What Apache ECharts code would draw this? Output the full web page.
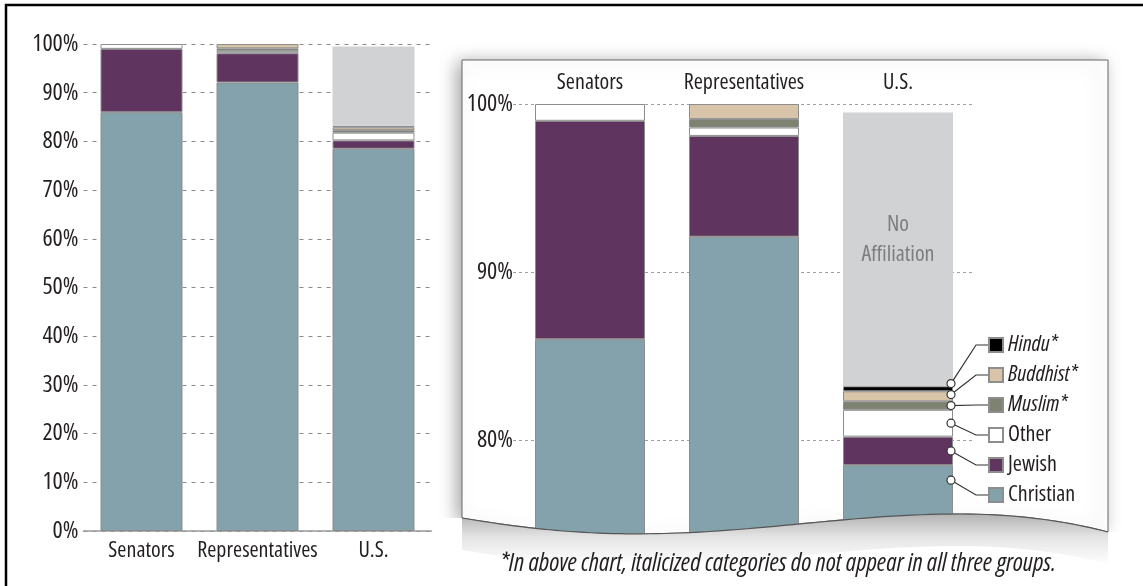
<!DOCTYPE html>
<html>
<head>
<meta charset="utf-8">
<script src="https://cdn.jsdelivr.net/npm/echarts@6/dist/echarts.min.js"></script>
<style>
  html, body { margin: 0; padding: 0; background: #fff; }
  #chart { width: 1143px; height: 586px; }
</style>
</head>
<body>
<div id="chart"></div>
<script>
// data, bottom to top of each stack (percent)
const categories = ["Senators", "Representatives", "U.S."];
const christian = [86, 92.1, 78.5];
const jewish = [13, 6.0, 1.7];
const other = [1, 0.5, 1.6];
const muslim = [0, 0.5, 0.5];
const buddhist = [0, 0.9, 0.6];
const hindu = [0, 0, 0.3];
const noAffiliation = [0, 0, 16.3];
const fullTicks = [0, 10, 20, 30, 40, 50, 60, 70, 80, 90, 100];
const zoomTicks = [80, 90, 100];
const legendOrder = ["Hindu", "Buddhist", "Muslim", "Other", "Jewish", "Christian"];
const italicNames = ["Hindu", "Buddhist", "Muslim"];

// Open Sans is a variable font, "condensed" goes through fontStyle into the canvas font string
const FONT = "'Open Sans'";
const COND = "condensed";
const INK = "#231f20";
const FS = 22;

const groups = [
  { name: "Christian", values: christian, color: "#84a2ab" },
  { name: "Jewish", values: jewish, color: "#5f355f" },
  { name: "Other", values: other, color: "#ffffff" },
  { name: "Muslim", values: muslim, color: "#7e8270" },
  { name: "Buddhist", values: buddhist, color: "#d8c4a8" },
  { name: "Hindu", values: hindu, color: "#000000" },
  { name: "No Affiliation", values: noAffiliation, color: "#d1d2d4" },
];

function buildSeries(idx, barWidth) {
  return groups.map((g) => ({
    name: g.name,
    type: "bar",
    stack: "s" + idx,
    xAxisIndex: idx,
    yAxisIndex: idx,
    barWidth: barWidth,
    data: g.values.map((v) => (v === 0 ? "-" : v)),
    itemStyle: {
      color: g.color,
      borderColor: g.name === "No Affiliation" ? "#d1d2d4" : "#8d8d8d",
      borderWidth: g.name === "No Affiliation" ? 0 : 1,
    },
    label:
      idx === 1 && g.name === "No Affiliation"
        ? {
            show: true,
            position: "inside",
            formatter: "No\nAffiliation",
            color: "#7d7d7d",
            fontSize: FS,
            fontStyle: COND,
            lineHeight: 30,
            fontFamily: FONT,
            offset: [0, -10],
          }
        : { show: false },
    emphasis: { disabled: true },
  }));
}

const axisText = { fontSize: FS, fontStyle: COND, fontFamily: FONT, color: INK };

const chart = echarts.init(document.getElementById("chart"));

const option = {
  animation: false,
  textStyle: { fontFamily: FONT, color: INK },
  grid: [
    { left: 83.5, width: 348, top: 44, height: 487, outerBoundsMode: "none" },
    { left: 513, width: 462, top: 104, height: 504, outerBoundsMode: "none" },
  ],
  legend: {
    data: legendOrder,
    orient: "vertical",
    left: 988,
    top: 334,
    padding: 0,
    itemWidth: 14,
    itemHeight: 14,
    itemGap: 8,
    icon: "rect",
    selectedMode: false,
    formatter: (name) =>
      italicNames.includes(name) ? "{i|" + name + "*}" : "{n|" + name + "}",
    textStyle: {
      fontFamily: FONT,
      fontSize: FS,
      fontStyle: COND,
      lineHeight: 22,
      color: INK,
      rich: {
        i: { fontFamily: FONT, fontSize: FS, lineHeight: 22, fontStyle: "italic " + COND, color: INK },
        n: { fontFamily: FONT, fontSize: FS, lineHeight: 22, fontStyle: COND, color: INK },
      },
    },
  },
  xAxis: [
    {
      type: "category",
      gridIndex: 0,
      data: categories,
      axisTick: { show: false },
      axisLine: { show: true, lineStyle: { color: "#9a9a9a", width: 1.5 } },
      axisLabel: { ...axisText, margin: 9, interval: 0 },
    },
    {
      type: "category",
      gridIndex: 1,
      position: "top",
      data: categories,
      axisTick: { show: false },
      axisLine: { show: false },
      axisLabel: { ...axisText, margin: 10, interval: 0 },
    },
  ],
  yAxis: [
    {
      type: "value",
      gridIndex: 0,
      min: 0,
      max: 100,
      interval: 10,
      axisLine: { show: false },
      axisTick: { show: false },
      axisLabel: {
        ...axisText,
        fontSize: 24,
        margin: 5,
        formatter: (v) => (fullTicks.includes(v) ? v + "%" : ""),
      },
      splitLine: { lineStyle: { color: "#8a8a8a", type: [4, 5], width: 1 } },
    },
    {
      type: "value",
      gridIndex: 1,
      min: 70,
      max: 100,
      interval: 10,
      axisLine: { show: false },
      axisTick: { show: false },
      axisLabel: {
        ...axisText,
        fontSize: 24,
        margin: 0,
        formatter: (v) => (zoomTicks.includes(v) ? v + "%" : ""),
      },
      splitLine: { lineStyle: { color: "#a0a0a0", type: [3, 3], width: 1 } },
    },
  ],
  series: [...buildSeries(0, 82), ...buildSeries(1, 110)],
};

chart.setOption(option);

// wavy bottom edge of the zoom panel, sampled from cubic curves
function cubic(p0, p1, p2, p3, n) {
  const pts = [];
  for (let i = 0; i <= n; i++) {
    const t = i / n, u = 1 - t;
    pts.push([
      u * u * u * p0[0] + 3 * u * u * t * p1[0] + 3 * u * t * t * p2[0] + t * t * t * p3[0],
      u * u * u * p0[1] + 3 * u * u * t * p1[1] + 3 * u * t * t * p2[1] + t * t * t * p3[1],
    ]);
  }
  return pts;
}
const wave = [
  ...cubic([462, 518], [540, 531], [600, 536], [680, 533], 30),
  ...cubic([680, 533], [780, 529], [860, 514], [960, 514], 30).slice(1),
  ...cubic([960, 514], [1020, 514], [1070, 522], [1108, 532], 20).slice(1),
];
const waveRev = wave.slice().reverse();
const waveLow = waveRev.map((p) => [p[0], p[1] + 32]);

const graphics = [
  {
    type: "rect",
    z: 200,
    silent: true,
    shape: { x: 6, y: 5, width: 1300, height: 700 },
    style: { fill: "none", stroke: "#000", lineWidth: 2.5 },
  },
  {
    type: "polygon",
    z: -10,
    silent: true,
    shape: { points: [[462, 60], [1108, 60], ...waveRev] },
    style: {
      fill: "#fff",
      stroke: "#666",
      lineWidth: 1,
      shadowBlur: 18,
      shadowOffsetX: -5,
      shadowOffsetY: 2,
      shadowColor: "rgba(0,0,0,0.35)",
    },
  },
  {
    // mask the bars under the wave
    type: "polygon",
    z: 50,
    silent: true,
    shape: { points: [...wave, [1125, 532], [1125, 586], [440, 586], [440, 518]] },
    style: { fill: "#fff" },
  },
  {
    type: "polygon",
    z: 51,
    silent: true,
    shape: { points: [...wave, ...waveLow] },
    style: {
      fill: {
        type: "linear",
        x: 0, y: 0, x2: 0, y2: 1,
        colorStops: [
          { offset: 0, color: "rgba(0,0,0,0.30)" },
          { offset: 0.45, color: "rgba(0,0,0,0.10)" },
          { offset: 1, color: "rgba(0,0,0,0)" },
        ],
      },
    },
  },
  {
    type: "polyline",
    z: 52,
    silent: true,
    shape: { points: wave },
    style: { fill: "none", stroke: "#555", lineWidth: 1.2 },
  },
  {
    type: "text",
    z: 53,
    silent: true,
    x: 778,
    y: 564,
    style: {
      text: "*In above chart, italicized categories do not appear in all three groups.",
      font: "italic semi-condensed 25px " + FONT,
      fill: INK,
      align: "center",
      verticalAlign: "middle",
    },
  },
];

// callouts from the U.S. bar to the legend
const usIdx = 2;
const legendTop = 334, rowH = 22, rowGap = 8;
const toPx = (v) => chart.convertToPixel({ xAxisIndex: 1, yAxisIndex: 1 }, [usIdx, v]);
const barRight = toPx(90)[0] + 55 - 2;
const calloutNames = ["Christian", "Jewish", "Other", "Muslim", "Buddhist", "Hindu"];
let base = 0;
const ys = [];
calloutNames.forEach((name, i) => {
  const v = groups.find((g) => g.name === name).values[usIdx];
  const yTop = toPx(base + v)[1];
  const yMid = toPx(base + v / 2)[1];
  let y = i === 0 ? yTop + 15 : yMid;
  if (i > 0) y = Math.min(y, ys[i - 1] - 11);
  ys.push(y);
  base += v;
});
calloutNames.forEach((name, i) => {
  const row = legendOrder.indexOf(name);
  const rowY = legendTop + row * (rowH + rowGap) + rowH / 2;
  graphics.push({
    type: "polyline",
    z: 60,
    silent: true,
    shape: { points: [[barRight, ys[i]], [976, rowY], [988, rowY]] },
    style: { stroke: "#333", lineWidth: 1.2, fill: "none" },
  });
  graphics.push({
    type: "circle",
    z: 61,
    silent: true,
    shape: { cx: barRight, cy: ys[i], r: 4 },
    style: { fill: "#fff", stroke: "#333", lineWidth: 1.2 },
  });
});

chart.setOption({ graphic: graphics });
</script>
</body>
</html>
